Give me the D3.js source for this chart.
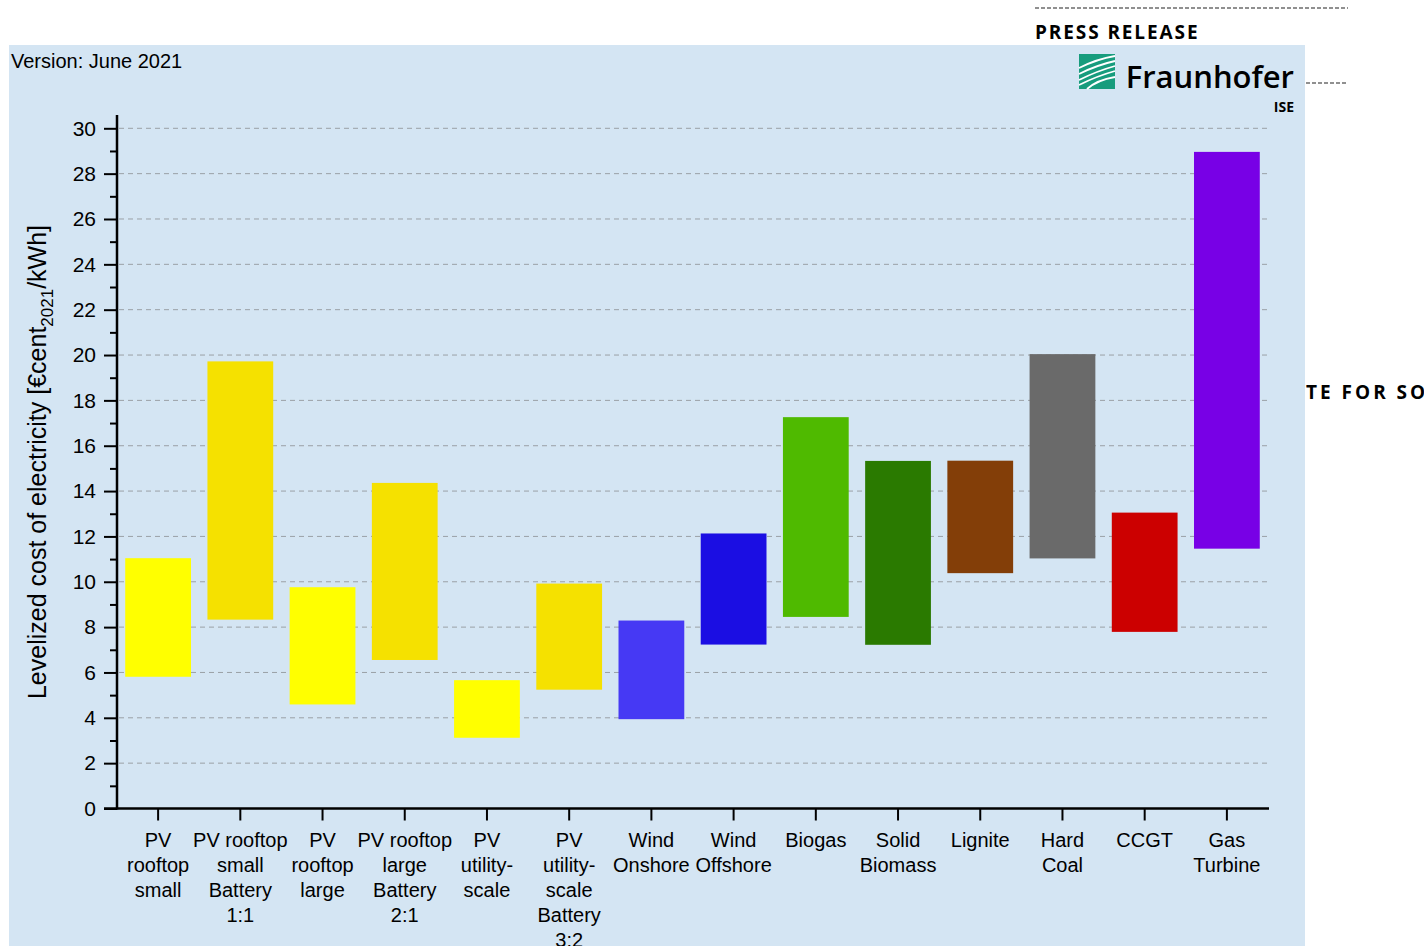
<!DOCTYPE html>
<html>
<head>
<meta charset="utf-8">
<script src="https://cdn.jsdelivr.net/npm/d3@7"></script>
<style>
  body { margin: 0; background: #fff; }
  svg { display: block; font-family: "Liberation Sans", Arial, sans-serif; }
</style>
</head>
<body>
<svg id="chart"></svg>
<script>
// data (LCOE ranges, €cent/kWh)
const categories = [
    ['PV', 'rooftop', 'small'],
    ['PV rooftop', 'small', 'Battery', '1:1'],
    ['PV', 'rooftop', 'large'],
    ['PV rooftop', 'large', 'Battery', '2:1'],
    ['PV', 'utility-', 'scale'],
    ['PV', 'utility-', 'scale', 'Battery', '3:2'],
    ['Wind', 'Onshore'],
    ['Wind', 'Offshore'],
    ['Biogas'],
    ['Solid', 'Biomass'],
    ['Lignite'],
    ['Hard', 'Coal'],
    ['CCGT'],
    ['Gas', 'Turbine']
];
const lowValues  = [5.81, 8.33, 4.59, 6.55, 3.12, 5.24, 3.94, 7.23, 8.45, 7.22, 10.38, 11.03, 7.79, 11.46];
const highValues = [11.04, 19.72, 9.76, 14.36, 5.66, 9.92, 8.29, 12.13, 17.26, 15.33, 15.34, 20.04, 13.05, 28.96];
const barColors  = ['#ffff00', '#f5e100', '#ffff00', '#f5e100', '#ffff00', '#f5e100', '#4639f4',
                    '#1b0ee3', '#4fba00', '#2a7a00', '#833e08', '#6a6a6a', '#cc0000', '#7800e6'];
const yTicks = d3.range(0, 31, 2);

let width = 1424;
let height = 946;

let svg = d3.select('#chart')
    .attr('width', width)
    .attr('height', height);

let values = categories.map((c, i) => ({ idx: i, lines: c, lo: lowValues[i], hi: highValues[i], color: barColors[i] }));

// header (press release frame)
svg.append('line')
    .attr('x1', 1035).attr('x2', 1348).attr('y1', 8).attr('y2', 8)
    .attr('stroke', '#222').attr('stroke-width', 1.2).attr('stroke-dasharray', '4,2');
svg.append('text')
    .attr('x', 1035).attr('y', 39)
    .style('font-family', '"Open Sans", sans-serif')
    .style('font-weight', 'bold').style('font-size', '19px').style('letter-spacing', '1.9px')
    .text('PRESS RELEASE');
svg.append('line')
    .attr('x1', 1306).attr('x2', 1348).attr('y1', 83).attr('y2', 83)
    .attr('stroke', '#222').attr('stroke-width', 1.2).attr('stroke-dasharray', '4,2');
svg.append('text')
    .attr('x', 1306).attr('y', 399)
    .style('font-family', '"Open Sans", sans-serif')
    .style('font-weight', 'bold').style('font-size', '19px').style('letter-spacing', '3px')
    .text('TE FOR SOLAR');

// panel
svg.append('rect')
    .attr('x', 9).attr('y', 45).attr('width', 1296).attr('height', 901)
    .attr('fill', '#d4e5f3');

svg.append('text')
    .attr('x', 11).attr('y', 68)
    .style('font-size', '20px')
    .text('Version: June 2021');

// logo
let logo = svg.append('g').attr('transform', 'translate(1079,54)');
logo.append('rect').attr('width', 36).attr('height', 35).attr('fill', '#179c7d');
[[0, 14, 36, 2], [0, 20, 36, 7], [0, 26, 36, 12], [0, 31, 36, 17], [8, 35, 36, 23]].forEach(s => {
    logo.append('path')
        .attr('d', 'M' + s[0] + ',' + s[1] + ' Q18,' + (s[1] - 9) + ' ' + s[2] + ',' + s[3])
        .attr('fill', 'none').attr('stroke', '#fff').attr('stroke-width', 1.8);
});
svg.append('text')
    .attr('x', 1294).attr('y', 88).attr('text-anchor', 'end')
    .style('font-family', '"Open Sans", sans-serif').style('font-weight', 600)
    .style('font-size', '31px')
    .text('Fraunhofer');
svg.append('text')
    .attr('x', 1294).attr('y', 112).attr('text-anchor', 'end')
    .style('font-family', '"Open Sans", sans-serif').style('font-weight', 'bold')
    .style('font-size', '14px')
    .text('ISE');

// scales
let xScale = d3.scaleBand()
    .domain(values.map(d => d.idx))
    .range([117, 1268])
    .paddingInner(0.2)
    .paddingOuter(0.1);

let yScale = d3.scaleLinear()
    .domain([0, 30])
    .range([808.5, 128.3]);

// grid
svg.append('g')
    .selectAll('line')
    .data(yTicks.filter(t => t > 0))
    .enter()
    .append('line')
        .attr('x1', 119).attr('x2', 1268)
        .attr('y1', d => yScale(d)).attr('y2', d => yScale(d))
        .attr('stroke', '#9aa0a6').attr('stroke-width', 1)
        .attr('stroke-dasharray', '5,4');

// bars
svg.append('g')
    .selectAll('rect')
    .data(values)
    .enter()
    .append('rect')
        .attr('x', d => xScale(d.idx))
        .attr('width', xScale.bandwidth())
        .attr('y', d => yScale(d.hi))
        .attr('height', d => yScale(d.lo) - yScale(d.hi))
        .attr('fill', d => d.color);

// y axis
let yAxis = d3.axisLeft(yScale)
    .tickValues(yTicks)
    .tickSize(13)
    .tickPadding(8)
    .tickFormat(d3.format('d'));
let gy = svg.append('g')
    .attr('transform', 'translate(117,0)')
    .call(yAxis);
gy.select('.domain').remove();
gy.selectAll('.tick line').attr('stroke', '#000').attr('stroke-width', 2);
gy.selectAll('.tick text').style('font-size', '21px').attr('fill', '#000').attr('font-family', null);

let minorAxis = d3.axisLeft(yScale)
    .tickValues(d3.range(1, 30, 2))
    .tickSize(7)
    .tickFormat('');
let gm = svg.append('g')
    .attr('transform', 'translate(117,0)')
    .call(minorAxis);
gm.select('.domain').remove();
gm.selectAll('.tick line').attr('stroke', '#000').attr('stroke-width', 2);

svg.append('line')
    .attr('x1', 117).attr('x2', 117).attr('y1', 115).attr('y2', 809.5)
    .attr('stroke', '#000').attr('stroke-width', 2.5);

// x axis
let xAxis = d3.axisBottom(xScale)
    .tickSize(12)
    .tickSizeOuter(0)
    .tickFormat('');
let gx = svg.append('g')
    .attr('transform', 'translate(0,808.5)')
    .call(xAxis);
gx.select('.domain').remove();
gx.selectAll('.tick line').attr('stroke', '#000').attr('stroke-width', 2);
svg.append('line')
    .attr('x1', 104).attr('x2', 1269).attr('y1', 808.5).attr('y2', 808.5)
    .attr('stroke', '#000').attr('stroke-width', 2.5);

// category labels
let labels = svg.append('g')
    .selectAll('text')
    .data(values)
    .enter()
    .append('text')
        .attr('text-anchor', 'middle')
        .style('font-size', '20px')
        .attr('transform', d => 'translate(' + (xScale(d.idx) + xScale.bandwidth() / 2) + ',847)');
labels.selectAll('tspan')
    .data(d => d.lines)
    .enter()
    .append('tspan')
        .attr('x', 0)
        .attr('y', (l, i) => i * 25)
        .text(l => l);

// y axis title
let yTitle = svg.append('text')
    .attr('transform', 'translate(46,462) rotate(-90)')
    .attr('text-anchor', 'middle')
    .style('font-size', '25px');
yTitle.append('tspan').text('Levelized cost of electricity [€cent');
yTitle.append('tspan').attr('dy', 7).style('font-size', '17px').text('2021');
yTitle.append('tspan').attr('dy', -7).text('/kWh]');
</script>
</body>
</html>
